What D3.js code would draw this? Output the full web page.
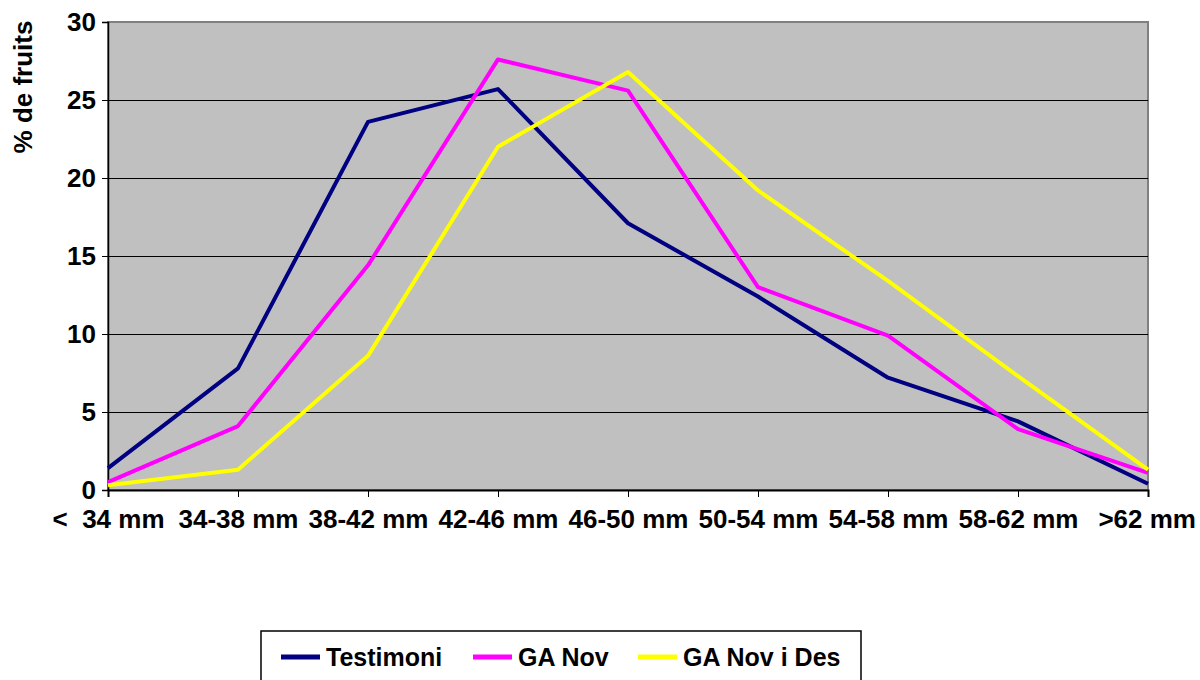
<!DOCTYPE html>
<html lang="en">
<head>
    <meta charset="UTF-8">
    <title>% de fruits per calibre</title>
    <style>
        body { margin: 0; background: #fff; }
        text { font-family: 'Liberation Sans', Arial, sans-serif; font-weight: bold; white-space: pre; }
    </style>
</head>
<body>
    <div id="container"></div>
    <script src="https://d3js.org/d3.v7.min.js"></script>
    <script>
        // categories (calibre) and series values
        const categories = ['<  34 mm', '34-38 mm', '38-42 mm', '42-46 mm', '46-50 mm',
                            '50-54 mm', '54-58 mm', '58-62 mm', '>62 mm'];
        const testimoni = [1.4, 7.8, 23.6, 25.7, 17.1, 12.4, 7.2, 4.4, 0.4];
        const gaNov     = [0.5, 4.1, 14.4, 27.6, 25.6, 13.0, 9.9, 3.9, 1.1];
        const gaNovDes  = [0.3, 1.3, 8.6, 22.0, 26.8, 19.2, 13.4, 7.3, 1.3];
        const yTicks = [0, 5, 10, 15, 20, 25, 30];
        const seriesNames = ['Testimoni', 'GA Nov', 'GA Nov i Des'];
        const seriesColors = ['#000080', '#ff00ff', '#ffff00'];

        const series = [testimoni, gaNov, gaNovDes].map((vals, i) => ({
            name: seriesNames[i], color: seriesColors[i], values: vals
        }));

        const W = 1200, H = 680;
        const margin = {top: 22, right: 52, bottom: 190, left: 108};
        const width = W - margin.left - margin.right;
        const height = H - margin.top - margin.bottom;
        const font = "'Liberation Sans', Arial, sans-serif";

        const svg = d3.select('#container').append('svg')
            .attr('width', W).attr('height', H);
        const g = svg.append('g').attr('transform', `translate(${margin.left},${margin.top})`);

        const x = d3.scalePoint().domain(categories).range([0, width]);
        const y = d3.scaleLinear().domain([0, 30]).range([height, 0]);

        // plot background
        g.append('rect').attr('width', width).attr('height', height)
            .attr('fill', '#c0c0c0').attr('stroke', '#808080').attr('stroke-width', 2);

        // gridlines
        g.selectAll('.grid').data(yTicks.filter(d => d > 0 && d < 30)).enter()
            .append('line')
            .attr('x1', 0).attr('x2', width)
            .attr('y1', d => Math.round(y(d)) + 0.5).attr('y2', d => Math.round(y(d)) + 0.5)
            .attr('stroke', '#000').attr('stroke-width', 1)
            .attr('shape-rendering', 'crispEdges');

        // y axis
        const yAxis = g.append('g')
            .call(d3.axisLeft(y).tickValues(yTicks).tickSize(6).tickPadding(6));
        yAxis.select('.domain').attr('stroke', '#000').attr('stroke-width', 1.5);
        yAxis.selectAll('text').attr('font-size', 26).attr('fill', '#000')
            .attr('font-family', font).attr('font-weight', 'bold');

        // x axis
        const xAxis = g.append('g').attr('transform', `translate(0,${height})`)
            .call(d3.axisBottom(x).tickSize(7).tickPadding(13));
        xAxis.select('.domain').attr('stroke', '#000').attr('stroke-width', 2);
        xAxis.selectAll('text').attr('font-size', 26).attr('fill', '#000')
            .attr('font-family', font).attr('font-weight', 'bold')
            .style('white-space', 'pre');
        // keep last label inside the page
        xAxis.selectAll('.tick text').each(function () {
            const bb = this.getBBox();
            const t = d3.select(this.parentNode).attr('transform');
            const tx = +t.match(/translate\(([-\d.]+)/)[1];
            const over = margin.left + tx + bb.x + bb.width - (W - 4);
            if (over > 0) d3.select(this).attr('dx', -over);
        });

        // lines
        const line = d3.line()
            .x((d, i) => x(categories[i]))
            .y(d => y(d));
        g.selectAll('.series').data(series).enter()
            .append('path')
            .attr('fill', 'none')
            .attr('stroke', d => d.color)
            .attr('stroke-width', 4)
            .attr('stroke-linejoin', 'round')
            .attr('d', d => line(d.values));

        // y title
        svg.append('text')
            .attr('transform', 'translate(32,87) rotate(-90)')
            .attr('text-anchor', 'middle')
            .attr('font-size', 26)
            .text('% de fruits');

        // legend
        const legend = svg.append('g');
        legend.append('rect')
            .attr('x', 261).attr('y', 631).attr('width', 600).attr('height', 70)
            .attr('fill', '#fff').attr('stroke', '#000').attr('stroke-width', 1.5);
        const legendX = [281, 473, 638];
        series.forEach((s, i) => {
            legend.append('line')
                .attr('x1', legendX[i]).attr('x2', legendX[i] + 39)
                .attr('y1', 657).attr('y2', 657)
                .attr('stroke', s.color).attr('stroke-width', 5);
            legend.append('text')
                .attr('x', legendX[i] + 45).attr('y', 666)
                .attr('font-size', 25)
                .text(s.name);
        });
    </script>
</body>
</html>
